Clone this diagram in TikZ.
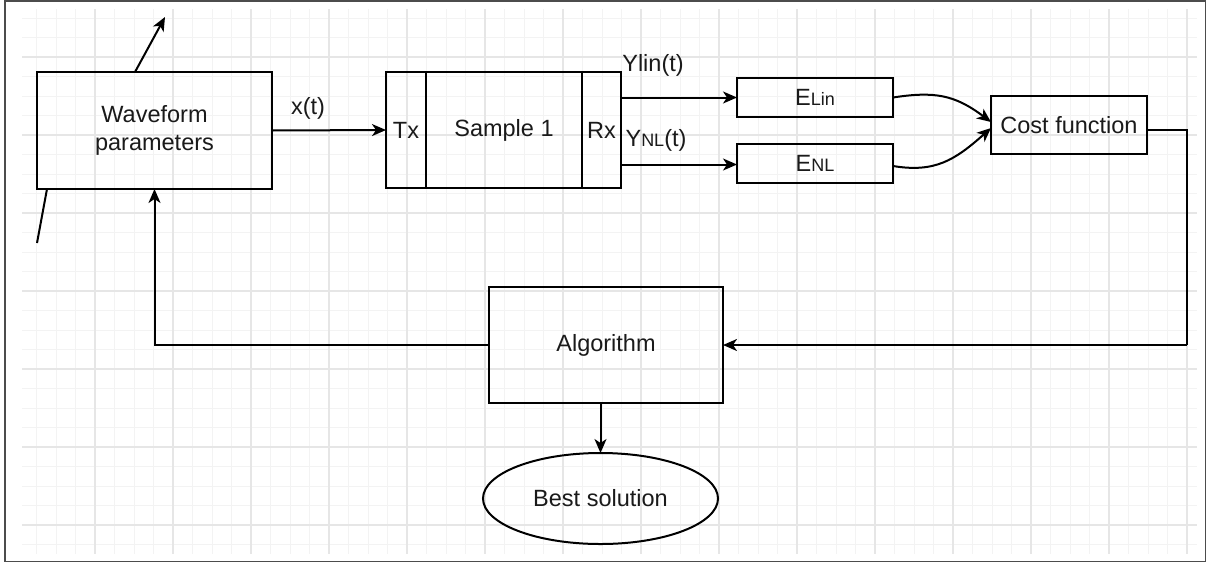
\documentclass[tikz,border=0pt]{standalone}
\usepackage{fontspec}
\setmainfont{Liberation Sans}
\usetikzlibrary{arrows.meta,shapes.geometric}
\newcommand{\dfs}{\fontsize{23.5}{28}\selectfont}
\newcommand{\sfsz}{\fontsize{18}{20}\selectfont}
\definecolor{gminor}{HTML}{F3F3F3}
\definecolor{gmajor}{HTML}{E6E6E6}
\definecolor{txt}{HTML}{1A1A1A}
\begin{document}
\begin{tikzpicture}[x=1pt,y=-1pt,
  box/.style={draw, line width=2pt, rectangle, inner sep=0pt, outer sep=0pt, font=\dfs, text=txt, align=center},
  lbl/.style={inner sep=0pt, font=\dfs, text=txt},
  conn/.style={line width=2pt},
  arr/.style={line width=2pt, -{Stealth[length=14pt,width=12pt,inset=4pt]}},
  minorg/.style={gminor, line width=1pt},
  majorg/.style={gmajor, line width=1.3pt}]
\useasboundingbox (0,0) rectangle (1212,563);
\fill[white] (0,0) rectangle (1212,563);
% grid
\foreach \i in {0,...,59} \draw[minorg] ({36.5+19.5*\i},9) -- ({36.5+19.5*\i},554);
\foreach \j in {0,...,27} \draw[minorg] (22,{18+19.5*\j}) -- (1197,{18+19.5*\j});
\foreach \i in {0,...,14} \draw[majorg] ({95+78*\i},9) -- ({95+78*\i},554);
\foreach \j in {0,...,6} \draw[majorg] (22,{57+78*\j}) -- (1197,{57+78*\j});
% frame
\draw[line width=1.8pt, black!70] (5,1) rectangle (1205.5,561.5);
% nodes
\node[box, minimum width=235pt, minimum height=117pt] (wf) at (154.5,130.5) {Waveform\\parameters};
\node[box, minimum width=40pt, minimum height=116pt] (tx) at (406,130) {Tx};
\node[box, minimum width=156pt, minimum height=116pt] (s1) at (504,130) {Sample 1};
\node[box, minimum width=39pt, minimum height=116pt] (rx) at (601.5,130) {Rx};
\node[box, minimum width=156pt, minimum height=39pt] (elin) at (815,97.5) {E{\sfsz Lin}};
\node[box, minimum width=156pt, minimum height=39pt] (enl) at (815,163.5) {E{\sfsz NL}};
\node[box, minimum width=156pt, minimum height=58pt] (cost) at (1069,125) {Cost function};
\node[box, minimum width=234pt, minimum height=116pt] (alg) at (606,345) {Algorithm};
\node[box, ellipse, minimum width=235pt, minimum height=91pt] (best) at (600.5,498.5) {Best solution};
% labels
\node[lbl] (xt) at (308,108) {x(t)};
\node[lbl] (ylin) at (653,65) {Ylin(t)};
\node[lbl] (ynl) at (656,140) {Y{\sfsz NL}(t)};
% free ends
\coordinate (da) at (135,72);
\coordinate (db) at (165,17);
\coordinate (dc) at (47,189);
\coordinate (dd) at (37,243);
\coordinate (rc) at (1187,345);
% connectors
\draw[arr] (da) -- (db);
\draw[conn] (dc) -- (dd);
\draw[arr] (wf.east) -- (tx.west);
\draw[arr] (rx.east |- elin.west) -- (elin.west);
\draw[arr] ([yshift=-1pt]rx.east |- enl.west) -- ([yshift=-1pt]enl.west);
\draw[arr] (elin.east) .. controls (935,91) and (955,95) .. ([yshift=3pt]cost.west);
\draw[arr] ([yshift=-2.5pt]enl.east) .. controls (935,173) and (955,160) .. ([yshift=-3pt]cost.west);
\draw[conn] ([yshift=-5pt]cost.east) -| (rc);
\draw[arr] (rc) -- (alg.east);
\draw[arr] (alg.west) -| (wf.south);
\draw[arr] (best.north |- alg.south) -- (best.north);
\end{tikzpicture}
\end{document}
